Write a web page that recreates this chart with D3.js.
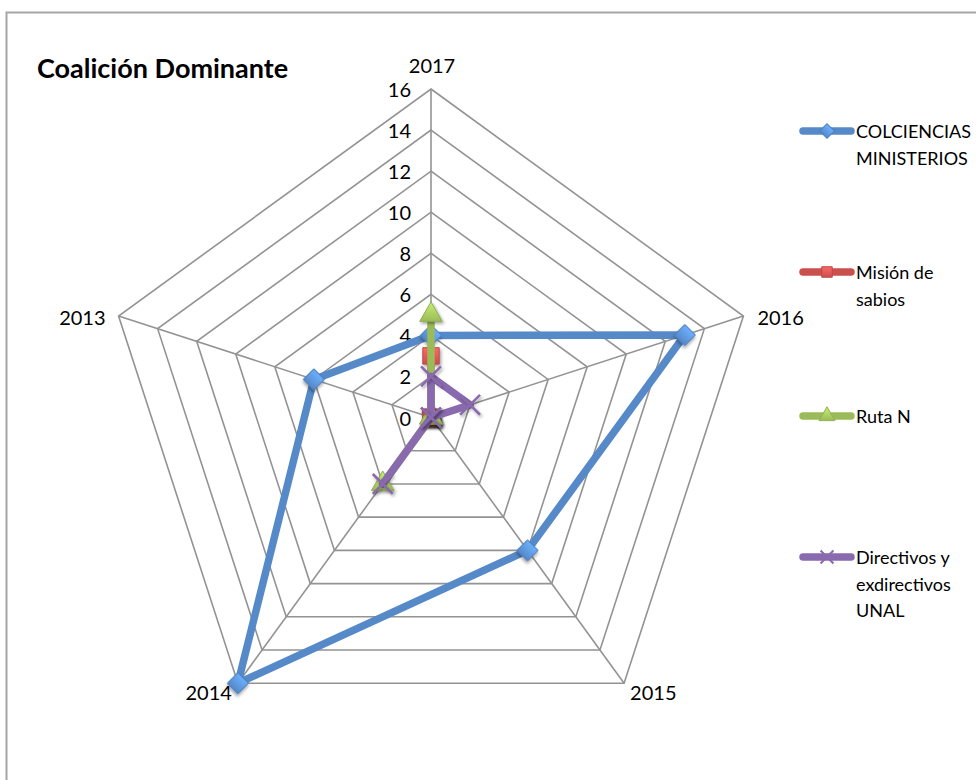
<!DOCTYPE html>
<html>
<head>
<meta charset="utf-8">
<script src="https://cdn.jsdelivr.net/npm/d3@7"></script>
<style>
  html, body { margin: 0; padding: 0; background: #fff; }
  svg text { font-family: Lato, "Open Sans", sans-serif; fill: #000; }
</style>
</head>
<body>
<svg id="chart" width="976" height="780"></svg>
<script>
// Axes of the radar, clockwise from the top
const years = ["2017", "2016", "2015", "2014", "2013"];
const ticks = [0, 2, 4, 6, 8, 10, 12, 14, 16];

// Values per year, in the order of `years`
const colciencias = [4, 13, 8, 16, 6];
const mision = [3, 0, 0, 0, 0];
const rutaN = [5, 0, 0, 4, 0];
const directivos = [2, 2, 0, 4, 0];

const seriesNames = [
  ["COLCIENCIAS", "MINISTERIOS"],
  ["Misión de", "sabios"],
  ["Ruta N"],
  ["Directivos y", "exdirectivos", "UNAL"]
];
const seriesColors = ["#5589C8", "#C9504D", "#9BBB59", "#8A6AAE"];
const seriesShapes = ["diamond", "square", "triangle", "x"];

const series = [colciencias, mision, rutaN, directivos].map((values, i) => ({
  name: seriesNames[i], values, color: seriesColors[i], shape: seriesShapes[i]
}));

const svg = d3.select("#chart");
const cx = 431, cy = 417.5, R = 328.5;

const r = d3.scaleLinear().domain([0, 16]).range([0, R]);
const angle = d3.scalePoint().domain(years).range([0, 2 * Math.PI * 4 / 5]);
const px = (year, v) => cx + r(v) * Math.sin(angle(year));
const py = (year, v) => cy - r(v) * Math.cos(angle(year));

// Chart frame
svg.append("rect")
  .attr("x", 6.5).attr("y", 12.5).attr("width", 1000).attr("height", 800)
  .attr("fill", "none").attr("stroke", "#a6a6a6").attr("stroke-width", 2);

// Drop shadow for markers
const defs = svg.append("defs");
const f = defs.append("filter").attr("id", "shadow")
  .attr("x", "-50%").attr("y", "-50%").attr("width", "200%").attr("height", "200%");
f.append("feDropShadow").attr("dx", 1.5).attr("dy", 2).attr("stdDeviation", 1.5)
  .attr("flood-color", "#000").attr("flood-opacity", 0.35);
series.forEach((s, i) => {
  const g = defs.append("linearGradient").attr("id", "grad" + i)
    .attr("x1", 0).attr("y1", 0).attr("x2", 0).attr("y2", 1);
  g.append("stop").attr("offset", "0%").attr("stop-color", d3.color(s.color).brighter(0.7));
  g.append("stop").attr("offset", "100%").attr("stop-color", s.color);
});

// Grid rings
const grid = svg.append("g").attr("fill", "none").attr("stroke", "#939393").attr("stroke-width", 1.6);
ticks.filter(t => t > 0).forEach(t => {
  grid.append("path")
    .attr("d", d3.line()(years.map(y => [px(y, t), py(y, t)])) + "Z");
});
// Spokes
years.forEach(y => {
  grid.append("line")
    .attr("x1", cx).attr("y1", cy)
    .attr("x2", px(y, 16)).attr("y2", py(y, 16));
});

// Tick labels on the top axis
svg.append("g").selectAll("text").data(ticks).join("text")
  .attr("x", cx - 20).attr("y", t => cy - r(t))
  .attr("text-anchor", "end").attr("dominant-baseline", "central")
  .attr("font-size", 20).text(t => t);

// Year labels
const yearLabelPos = {
  "2017": { dx: 1, dy: -24, anchor: "middle" },
  "2016": { dx: 14, dy: 1, anchor: "start" },
  "2015": { dx: 6, dy: 9, anchor: "start" },
  "2014": { dx: -6, dy: 9, anchor: "end" },
  "2013": { dx: -13, dy: 1, anchor: "end" }
};
svg.append("g").selectAll("text").data(years).join("text")
  .attr("x", y => px(y, 16) + yearLabelPos[y].dx)
  .attr("y", y => py(y, 16) + yearLabelPos[y].dy)
  .attr("text-anchor", y => yearLabelPos[y].anchor)
  .attr("dominant-baseline", "central")
  .attr("font-size", 20).text(y => y);

// Marker shapes
function markerPath(shape) {
  switch (shape) {
    case "diamond": return d3.symbol(d3.symbolSquare, 220)();
    case "square": return d3.symbol(d3.symbolSquare, 270)();
    case "triangle": return d3.symbol(d3.symbolTriangle, 220)();
    default: return d3.symbol(d3.symbolX, 260)();
  }
}
function drawMarker(g, s, i, x, y) {
  const p = g.append("path")
    .attr("d", markerPath(s.shape))
    .attr("transform", `translate(${x},${y})` + (s.shape === "diamond" ? " rotate(45)" : ""))
    .attr("filter", "url(#shadow)");
  if (s.shape === "x") {
    p.attr("fill", "none").attr("stroke", s.color).attr("stroke-width", 2.5);
  } else {
    p.attr("fill", `url(#grad${i})`).attr("stroke", d3.color(s.color).darker(0.2)).attr("stroke-width", 1);
  }
}

// Series: lines and markers, later series on top
const lineGen = d3.line().curve(d3.curveLinearClosed);
series.forEach((s, i) => {
  const g = svg.append("g");
  const pts = years.map((y, k) => [px(y, s.values[k]), py(y, s.values[k])]);
  g.append("path").attr("d", lineGen(pts))
    .attr("fill", "none").attr("stroke", s.color)
    .attr("stroke-width", 7.5).attr("stroke-linejoin", "round");
  pts.forEach(([x, y]) => drawMarker(g, s, i, x, y));
});

// Title
svg.append("text").attr("x", 37).attr("y", 78)
  .attr("font-size", 27).attr("font-weight", "bold").text("Coalición Dominante");

// Legend
const legendRows = [131, 272, 416, 557];
const lineH = 26.5;
series.forEach((s, i) => {
  const g = svg.append("g").attr("transform", `translate(0,${legendRows[i]})`);
  g.append("line").attr("x1", 803).attr("x2", 851).attr("y1", 0).attr("y2", 0)
    .attr("stroke", s.color).attr("stroke-width", 7.5).attr("stroke-linecap", "round");
  const m = g.append("path")
    .attr("d", d3.symbol(s.shape === "x" ? d3.symbolX : s.shape === "triangle" ? d3.symbolTriangle : d3.symbolSquare, 110)())
    .attr("transform", "translate(827,0)" + (s.shape === "diamond" ? " rotate(45)" : ""));
  if (s.shape === "x") m.attr("fill", "none").attr("stroke", s.color).attr("stroke-width", 2);
  else m.attr("fill", `url(#grad${i})`).attr("stroke", d3.color(s.color).darker(0.2));
  s.name.forEach((ln, k) => {
    g.append("text").attr("x", 856).attr("y", k * lineH)
      .attr("dominant-baseline", "central").attr("font-size", 18).text(ln);
  });
});
</script>
</body>
</html>
